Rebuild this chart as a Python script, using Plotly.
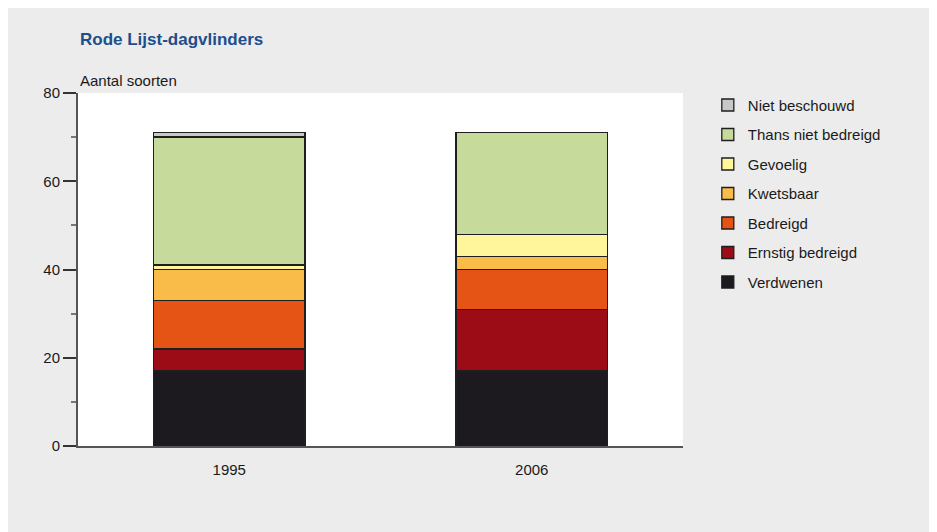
import plotly.graph_objects as go

years = ["1995", "2006"]
categories = ["Verdwenen", "Ernstig bedreigd", "Bedreigd", "Kwetsbaar",
              "Gevoelig", "Thans niet bedreigd", "Niet beschouwd"]
values = {
    "Verdwenen": [17, 17],
    "Ernstig bedreigd": [5, 14],
    "Bedreigd": [11, 9],
    "Kwetsbaar": [7, 3],
    "Gevoelig": [1, 5],
    "Thans niet bedreigd": [29, 23],
    "Niet beschouwd": [1, 0],
}
colors = {
    "Verdwenen": "#1c1a1f",
    "Ernstig bedreigd": "#9b0c16",
    "Bedreigd": "#e65415",
    "Kwetsbaar": "#f9bc48",
    "Gevoelig": "#fff59a",
    "Thans niet bedreigd": "#c6db9b",
    "Niet beschouwd": "#c8c8c8",
}
y_ticks = [0, 20, 40, 60, 80]
y_minor = [10, 30, 50, 70]

FONT = "Liberation Sans, Arial, sans-serif"
TXT = "#1a1a1a"
fig = go.Figure()
n = len(categories)
for i, c in enumerate(categories):
    fig.add_trace(go.Bar(
        x=years, y=values[c], name=c, legendgroup=c, legendrank=n - i,
        marker=dict(color=colors[c], line=dict(color="#1e1e1e", width=1.3)),
    ))

fig.update_layout(
    width=929, height=524,
    barmode="stack", bargap=0.5,
    paper_bgcolor="#ececec", plot_bgcolor="#ffffff",
    margin=dict(l=70, r=254, t=85, b=86),
    font=dict(family=FONT, size=15, color=TXT),
    showlegend=True,
    legend=dict(
        traceorder="grouped", tracegroupgap=7,
        x=1.041, y=1.012, xanchor="left", yanchor="top",
        bgcolor="rgba(0,0,0,0)", font=dict(size=15, family=FONT, color=TXT),
    ),
    xaxis=dict(
        showline=True, linecolor="#555555", linewidth=2,
        ticks="outside", ticklen=9, tickcolor="rgba(0,0,0,0)",
        showgrid=False, zeroline=False,
    ),
    yaxis=dict(
        range=[0, 80], tickvals=y_ticks, showline=True, linecolor="#555555", linewidth=2,
        ticks="outside", ticklen=13, tickwidth=1.5, tickcolor="#333333",
        minor=dict(tickvals=y_minor, ticks="outside", ticklen=5, tickcolor="#777777", tickwidth=1.5),
        showgrid=False, zeroline=False,
    ),
    annotations=[
        dict(text="<b>Rode Lijst-dagvlinders</b>", x=0, y=1, xref="paper", yref="paper",
             xanchor="left", yanchor="bottom", yshift=42, showarrow=False,
             font=dict(size=17, color="#1d4f8c", family=FONT)),
        dict(text="Aantal soorten", x=0, y=1, xref="paper", yref="paper",
             xanchor="left", yanchor="bottom", yshift=2, showarrow=False,
             font=dict(size=15, color=TXT, family=FONT)),
    ],
)
fig.write_html("out.html")
